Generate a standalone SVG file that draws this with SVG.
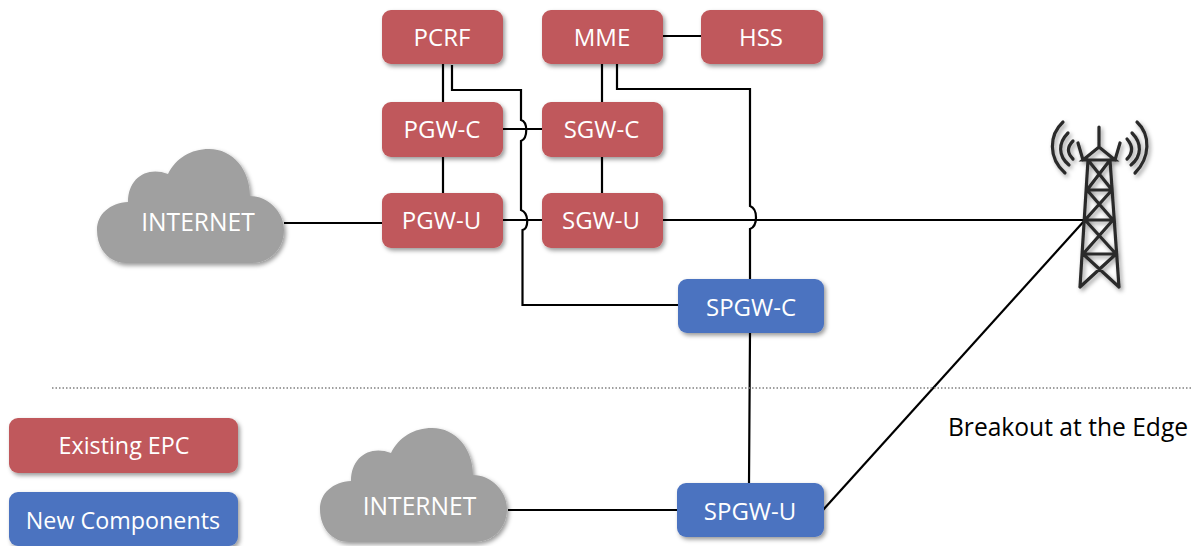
<svg xmlns="http://www.w3.org/2000/svg" xmlns:xlink="http://www.w3.org/1999/xlink" width="1191" height="546" viewBox="0 0 1191 546">
<style>
text{font-family:"Open Sans","Noto Sans","Liberation Sans",sans-serif;font-size:24px;fill:#fff;text-anchor:middle}
.big{font-size:24.600px}.leg{font-size:23.300px}
.red{fill:#c0595b}.blue{fill:#4c73c0}.cloud{fill:#a0a0a0}
.c{fill:none;stroke:#000;stroke-width:2.200}
.t{fill:none;stroke:#2a2a2a;stroke-width:3.200;stroke-linecap:round}
</style>
<defs>
<filter id="s" x="-10%" y="-10%" width="125%" height="130%"><feDropShadow dx="2" dy="2.5" stdDeviation="2" flood-color="#000" flood-opacity=".4"/></filter>
<path id="cl" d="M128,202C110,203 97,214 97,230C97,250 110,263 126,263L252,263C270,263 284,249 284,230C284,212 268,196 250,196C250,170 233,149 209,149C191,149 176,158 168,174C147,166 128,178 128,202Z"/>
</defs>
<rect width="1191" height="546" fill="#fff"/>
<g id="connectors">
<path class="c" d="M443,64V102M602,64V102M443,157V193M602,157V193M663,36H701M503,129H542M503,220H542M284,223H382M663,220H1085M508,510H677M750,333L749,483"/>
<path class="c" d="M452,65V90H521V120C528,122 528,138 521,141V210C529,213 529,228 522.500,230V305H678"/>
<path class="c" d="M617,64V89H750V206C758,209 758,226 750,229V279"/>
<path class="c" d="M1085,220L823,510"/>
<path d="M52,388H1191" fill="none" stroke="#808080" stroke-width="1.500" stroke-dasharray="1.500 2"/>
</g>
<g id="internet1"><use xlink:href="#cl" href="#cl" class="cloud" filter="url(#s)"/><text class="big" x="198" y="231">INTERNET</text></g>
<g id="internet2"><use xlink:href="#cl" href="#cl" class="cloud" filter="url(#s)" transform="translate(223,279)"/><text class="big" x="419.500" y="515">INTERNET</text></g>
<g id="pcrf"><rect class="red" x="382" y="10" width="121" height="54" rx="9" filter="url(#s)"/><text x="442" y="45.500">PCRF</text></g>
<g id="mme"><rect class="red" x="542" y="10" width="121" height="54" rx="9" filter="url(#s)"/><text x="602" y="45.500">MME</text></g>
<g id="hss"><rect class="red" x="701" y="10" width="122" height="54" rx="9" filter="url(#s)"/><text x="761" y="45.500">HSS</text></g>
<g id="pgw-c"><rect class="red" x="382" y="102" width="121" height="55" rx="9" filter="url(#s)"/><text x="442" y="137.500">PGW-C</text></g>
<g id="sgw-c"><rect class="red" x="542" y="102" width="121" height="55" rx="9" filter="url(#s)"/><text x="601.500" y="137.500">SGW-C</text></g>
<g id="pgw-u"><rect class="red" x="382" y="193" width="121" height="55" rx="9" filter="url(#s)"/><text x="441.500" y="228.500">PGW-U</text></g>
<g id="sgw-u"><rect class="red" x="542" y="193" width="121" height="55" rx="9" filter="url(#s)"/><text x="601" y="228.500">SGW-U</text></g>
<g id="spgw-c"><rect class="blue" x="678" y="279" width="146" height="54" rx="9" filter="url(#s)"/><text x="751" y="315.500">SPGW-C</text></g>
<g id="spgw-u"><rect class="blue" x="677" y="483" width="147" height="54" rx="9" filter="url(#s)"/><text x="750" y="519.500">SPGW-U</text></g>
<g id="legend-existing"><rect class="red" x="9" y="418" width="229" height="55" rx="9" filter="url(#s)"/><text class="leg" x="124" y="453.500">Existing EPC</text></g>
<g id="legend-new"><rect class="blue" x="9" y="492" width="229" height="54" rx="9" filter="url(#s)"/><text class="leg" x="123" y="528.500">New Components</text></g>
<g id="tower" filter="url(#s)">
<path class="t" d="M1099,127V147M1083,160L1099,147L1115,160ZM1078,143L1083,160M1120,143L1115,160M1088,160L1080,287M1110,160L1119,287M1087,190H1112M1085,220H1113M1083,254H1116M1088,160L1112,190M1110,160L1087,190M1087,190L1113,220M1112,190L1085,220M1085,220L1116,254M1113,220L1083,254M1083,254L1119,287M1116,254L1080,287"/>
<path class="t" d="M1063,122C1049,135 1048,158 1065,173M1068,133C1058,143 1058,156 1069,165M1073,141C1067,147 1067,153 1073,159M1137,122C1151,135 1150,158 1135,173M1132,133C1142,143 1142,156 1131,165M1127,139C1133,146 1133,153 1127,159"/>
</g>
<text class="big" x="1068" y="436" style="fill:#000">Breakout at the Edge</text>
</svg>
